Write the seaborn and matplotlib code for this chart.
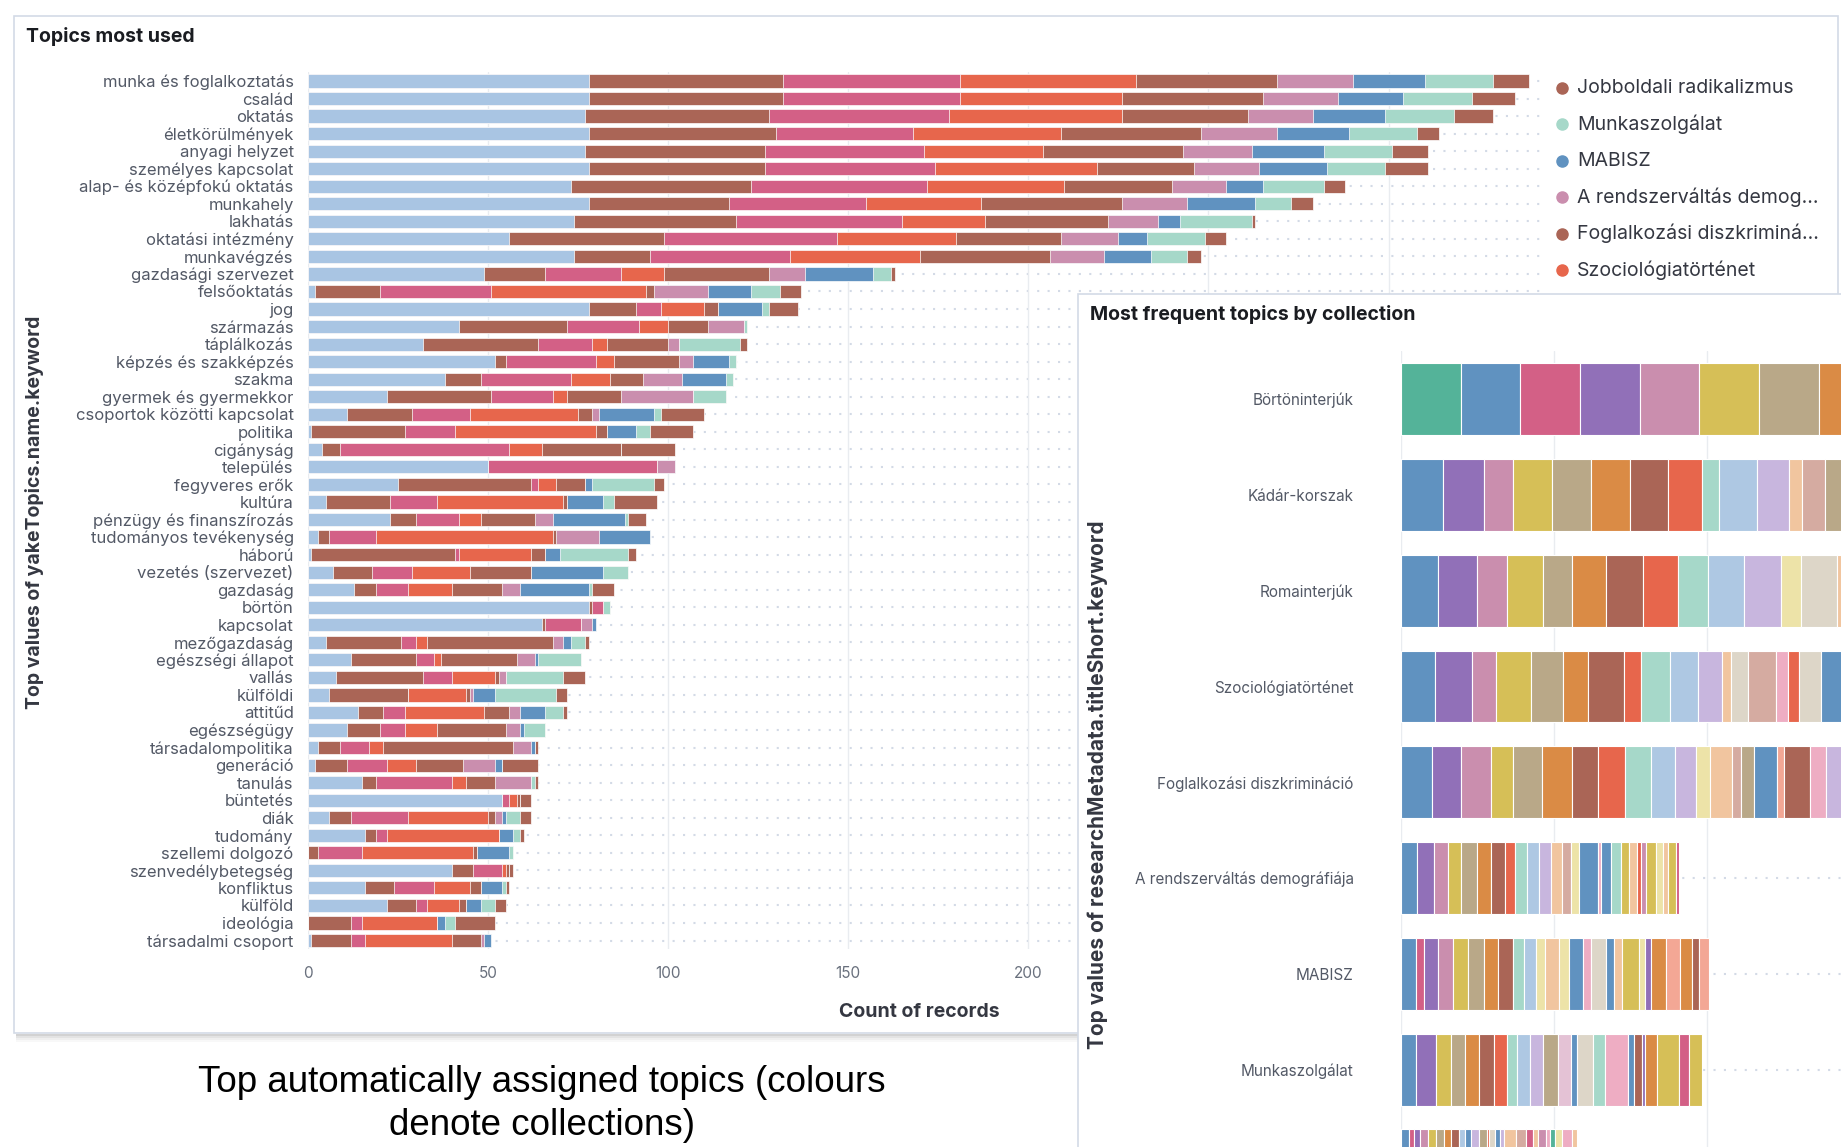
import numpy as np
import pandas as pd
import matplotlib
matplotlib.use("Agg")
import matplotlib.pyplot as plt
import seaborn as sns
from matplotlib import font_manager as fm
from matplotlib.lines import Line2D
from matplotlib.patches import Rectangle

# ---- left panel: topics and count of records per collection ----
topics = ['munka és foglalkoztatás', 'család', 'oktatás', 'életkörülmények', 'anyagi helyzet',
          'személyes kapcsolat', 'alap- és középfokú oktatás', 'munkahely', 'lakhatás',
          'oktatási intézmény', 'munkavégzés', 'gazdasági szervezet', 'felsőoktatás', 'jog',
          'származás', 'táplálkozás', 'képzés és szakképzés', 'szakma', 'gyermek és gyermekkor',
          'csoportok közötti kapcsolat', 'politika', 'cigányság', 'település', 'fegyveres erők',
          'kultúra', 'pénzügy és finanszírozás', 'tudományos tevékenység', 'háború',
          'vezetés (szervezet)', 'gazdaság', 'börtön', 'kapcsolat', 'mezőgazdaság',
          'egészségi állapot', 'vallás', 'külföldi', 'attitűd', 'egészségügy',
          'társadalompolitika', 'generáció', 'tanulás', 'büntetés', 'diák', 'tudomány',
          'szellemi dolgozó', 'szenvedélybetegség', 'konfliktus', 'külföld', 'ideológia',
          'társadalmi csoport']

# stack order left -> right
bortoninterjuk = [78, 78, 77, 78, 77, 78, 73, 78, 74, 56, 74, 49, 2, 78, 42, 32, 52, 38, 22, 11,
                  1, 4, 50, 25, 5, 23, 3, 1, 7, 13, 78, 65, 5, 12, 8, 6, 14, 11, 3, 2,
                  15, 54, 6, 16, 0, 40, 16, 22, 0, 1]
kadar_korszak = [54, 54, 51, 52, 50, 49, 50, 39, 45, 43, 21, 17, 18, 13, 30, 32, 3, 10, 29, 18,
                 26, 5, 0, 37, 18, 7, 3, 40, 11, 6, 1, 1, 21, 18, 24, 22, 7, 9, 6, 9,
                 4, 0, 6, 3, 3, 6, 8, 8, 12, 11]
romainterjuk = [49, 49, 50, 38, 44, 47, 49, 38, 46, 48, 39, 21, 31, 7, 20, 15, 25, 25, 17, 16,
                14, 47, 47, 2, 13, 12, 13, 1, 11, 9, 3, 10, 4, 5, 8, 0, 6, 7, 8, 11,
                21, 2, 16, 3, 12, 8, 11, 3, 3, 4]
szociologiatortenet = [49, 45, 48, 41, 33, 45, 38, 32, 23, 33, 36, 12, 43, 12, 8, 4, 5, 11, 4, 30,
                       39, 9, 0, 5, 35, 6, 49, 20, 16, 12, 0, 0, 3, 2, 12, 16, 22, 9, 4, 8,
                       4, 2, 22, 31, 31, 1, 10, 9, 21, 24]
foglalkozasi = [39, 39, 35, 39, 39, 27, 30, 39, 34, 29, 36, 29, 2, 4, 11, 17, 18, 9, 15, 4,
                3, 22, 0, 8, 1, 15, 1, 4, 17, 14, 0, 0, 35, 21, 1, 1, 7, 19, 36, 13,
                8, 1, 2, 0, 1, 1, 3, 2, 0, 8]
rendszervaltas = [21, 21, 18, 21, 19, 18, 15, 18, 14, 16, 15, 10, 15, 0, 10, 3, 4, 11, 20, 2,
                  0, 0, 5, 0, 0, 5, 12, 0, 0, 5, 0, 3, 3, 5, 2, 1, 3, 4, 5, 9,
                  10, 0, 2, 0, 0, 0, 0, 0, 0, 1]
mabisz = [20, 18, 20, 20, 20, 19, 10, 19, 6, 8, 13, 19, 12, 12, 0, 0, 10, 12, 0, 15,
          8, 0, 0, 2, 10, 20, 14, 4, 20, 19, 0, 1, 2, 1, 0, 6, 7, 1, 1, 2,
          0, 0, 1, 4, 9, 0, 6, 4, 2, 2]
munkaszolgalat = [19, 19, 19, 19, 19, 16, 17, 10, 20, 16, 10, 5, 8, 2, 1, 17, 2, 2, 9, 2,
                  4, 0, 0, 17, 3, 1, 0, 19, 7, 1, 2, 0, 4, 12, 16, 17, 5, 6, 0, 0,
                  1, 0, 4, 2, 1, 0, 1, 4, 3, 0]
jobboldali = [10, 12, 11, 6, 10, 12, 6, 6, 1, 6, 4, 1, 6, 8, 0, 2, 0, 0, 0, 12,
              12, 15, 0, 3, 12, 5, 0, 2, 0, 6, 0, 0, 1, 0, 6, 3, 1, 0, 1, 10,
              1, 3, 3, 1, 0, 1, 1, 3, 11, 0]

x_ticks = [0, 50, 100, 150, 200, 250, 300]

# legend, top to bottom, text as cut in the picture
legend_labels = ['Jobboldali radikalizmus', 'Munkaszolgálat', 'MABISZ',
                 'A rendszerváltás demog...', 'Foglalkozási diszkriminá...',
                 'Szociológiatörténet', 'Romainterjúk', 'Kádár-korszak', 'Börtöninterjúk']

# ---- right panel: topic (colour index) and count of each stacked segment ----
# last row is cut by the bottom edge, its label is not visible
collections = ['Börtöninterjúk', 'Kádár-korszak', 'Romainterjúk', 'Szociológiatörténet',
               'Foglalkozási diszkrimináció', 'A rendszerváltás demográfiája', 'MABISZ',
               'Munkaszolgálat', 'Jobboldali radikalizmus']

bort_topic = [0, 1, 2, 3, 4, 5, 6, 7, 8, 9]
bort_count = [78, 78, 78, 78, 78, 78, 78, 78, 78, 78]
kadar_topic = [1, 3, 4, 5, 6, 7, 8, 9, 10, 11, 13, 17, 18, 6, 15, 16]
kadar_count = [55, 53, 39, 50, 51, 51, 50, 45, 22, 49, 42, 17, 30, 40, 30, 30]
roma_topic = [1, 3, 4, 5, 6, 7, 8, 9, 10, 11, 13, 15, 16, 17, 18]
roma_count = [49, 50, 39, 48, 37, 45, 48, 46, 39, 48, 48, 26, 47, 30, 30]
szoc_topic = [1, 3, 4, 5, 6, 7, 8, 9, 10, 11, 13, 17, 16, 18, 12, 9, 16, 1, 19]
szoc_count = [45, 48, 31, 46, 42, 32, 48, 22, 37, 37, 32, 11, 22, 37, 16, 14, 29, 30, 20]
fogl_topic = [1, 3, 4, 5, 6, 7, 8, 9, 10, 11, 13, 15, 17, 18, 6, 1, 19, 8, 12, 13]
fogl_count = [40, 39, 39, 29, 37, 40, 34, 35, 34, 31, 28, 18, 29, 11, 18, 29, 10, 34, 21, 30]
rend_topic = [1, 3, 4, 5, 6, 7, 8, 9, 10, 11, 13, 17, 18, 15, 1, 12, 1, 10, 5, 17, 9, 4, 5, 15,
              17, 5, 2]
rend_count = [21, 22, 18, 17, 21, 19, 18, 13, 16, 16, 15, 14, 12, 11, 24, 5, 13, 12, 11, 10, 6, 6,
              13, 10, 6, 10, 5]
mab_topic = [1, 2, 3, 4, 5, 6, 7, 8, 10, 11, 15, 17, 15, 1, 12, 16, 1, 17, 5, 15, 3, 7, 19, 7, 8, 19]
mab_count = [19, 11, 19, 19, 19, 21, 19, 20, 14, 16, 11, 18, 13, 19, 11, 19, 10, 11, 22, 8, 8, 19,
             19, 16, 8, 14]
munk_topic = [1, 3, 5, 6, 7, 8, 9, 10, 11, 13, 6, 14, 1, 16, 10, 12, 1, 8, 3, 7, 5, 2, 5]
munk_count = [19, 27, 19, 19, 18, 19, 18, 13, 16, 18, 19, 17, 8, 21, 16, 30, 8, 10, 4, 15, 29, 13, 17]
jobb_topic = [1, 2, 3, 4, 5, 6, 7, 8, 11, 1, 13, 6, 9, 16, 1, 13, 17, 18, 2, 17, 4, 12, 0, 15, 12, 17]
jobb_count = [11, 6, 8, 10, 11, 10, 10, 10, 8, 8, 10, 10, 3, 8, 6, 5, 16, 13, 10, 6, 10, 6, 6, 10,
              13, 6]

# ---- styling ----
series_colors = ['#a9c5e3', '#aa6556', '#d36086', '#e7664c', '#aa6556',
                 '#ca8eae', '#6092c0', '#a6d8c9', '#aa6556']
legend_colors = series_colors[::-1]
topic_palette = ['#54b399', '#6092c0', '#d36086', '#9170b8', '#ca8eae', '#d6bf57', '#b9a888',
                 '#da8b45', '#aa6556', '#e7664c', '#a6d8c9', '#aec8e3', '#eeadc3', '#c8b6de',
                 '#e4c2d5', '#ede3a8', '#ddd6c8', '#f1c59f', '#d5aba1', '#f3a795']

sns.set_theme(style='white')
names = {f.name for f in fm.fontManager.ttflist}
ui_font = 'Inter' if 'Inter' in names else 'DejaVu Sans'
cap_font = 'Liberation Sans' if 'Liberation Sans' in names else 'DejaVu Sans'
plt.rcParams['font.family'] = [ui_font, 'DejaVu Sans']

W, H = 1841, 1147
fig = plt.figure(figsize=(W / 100, H / 100), dpi=100)


def px_axes(x0, y0, x1, y1):
    return fig.add_axes([x0 / W, 1 - y1 / H, (x1 - x0) / W, (y1 - y0) / H])


def fx(x):
    return x / W


def fy(y):
    return 1 - y / H


# left panel frame + bottom shadow
fig.add_artist(Rectangle((fx(14), fy(1033)), (1838 - 14) / W, (1033 - 16) / H,
                         transform=fig.transFigure, facecolor='white',
                         edgecolor='#d3dae6', lw=1.2, zorder=-2))
for i, a in enumerate([0.35, 0.22, 0.12, 0.05]):
    fig.add_artist(Rectangle((fx(16), fy(1036 + 2 * i)), (1078 - 16) / W, 2 / H,
                             transform=fig.transFigure, facecolor='#808080',
                             edgecolor='none', alpha=a, zorder=-1))

ax = px_axes(307.6, 72.2, 1540, 949.3)
ax.set_facecolor('none')
stack = [bortoninterjuk, kadar_korszak, romainterjuk, szociologiatortenet, foglalkozasi,
         rendszervaltas, mabisz, munkaszolgalat, jobboldali]
cum = np.cumsum(np.array(stack), axis=0)
n = len(topics)
ax.hlines(np.arange(n), 0, 342, colors='#d3dae6', linestyles=(0, (1, 4)), lw=1.5, zorder=0.5)
# stacked bars: longest cumulative first, shorter ones drawn on top
for k in range(len(stack) - 1, -1, -1):
    df = pd.DataFrame({'topic': topics, 'count': cum[k]})
    sns.barplot(data=df, x='count', y='topic', order=topics, orient='h',
                color=series_colors[k], saturation=1, width=0.75, errorbar=None,
                edgecolor='white', linewidth=0.5, ax=ax, zorder=2)
ax.set_xlim(0, 342)
ax.set_ylim(n - 0.5, -0.5)
ax.set_xticks(x_ticks)
ax.grid(axis='x', color='#e9ecf0', lw=1)
ax.grid(axis='y', visible=False)
ax.set_axisbelow(True)
ax.set_xlabel('')
ax.set_ylabel('')
for s in ax.spines.values():
    s.set_visible(False)
ax.tick_params(axis='y', length=0, pad=10, labelsize=12, labelcolor='#535966')
ax.tick_params(axis='x', length=0, pad=12, labelsize=11, labelcolor='#69707d')

fig.text(fx(26), fy(36.4), 'Topics most used', fontsize=14, weight='bold',
         color='#1a1c21', va='center')
fig.text(fx(35), fy(512), 'Top values of yakeTopics.name.keyword', fontsize=14,
         weight='bold', color='#343741', rotation=90, ha='center', va='center')
fig.text(fx(919), fy(1012), 'Count of records', fontsize=14, weight='bold',
         color='#343741', ha='center', va='center')

# legend
for i, (lab, col) in enumerate(zip(legend_labels, legend_colors)):
    y = 88 + i * 36.4
    fig.add_artist(Line2D([fx(1561.5)], [fy(y)], marker='o', ls='', color=col,
                          markersize=8, transform=fig.transFigure, zorder=3))
    fig.text(fx(1577), fy(y), lab, fontsize=14, color='#343741', va='center', zorder=3)

# right panel (drawn over the left one)
fig.add_artist(Rectangle((fx(1078), fy(1170)), (1880 - 1078) / W, (1170 - 293.5) / H,
                         transform=fig.transFigure, facecolor='white',
                         edgecolor='#d3dae6', lw=1.2, zorder=5))
ax2 = px_axes(1401, 351.3, 2013, 1213.3)
ax2.set_zorder(6)
ax2.set_facecolor('none')
inset_topic = [bort_topic, kadar_topic, roma_topic, szoc_topic, fogl_topic, rend_topic,
               mab_topic, munk_topic, jobb_topic]
inset_count = [bort_count, kadar_count, roma_count, szoc_count, fogl_count, rend_count,
               mab_count, munk_count, jobb_count]
ax2.hlines(np.arange(len(collections)), 0, 800, colors='#d3dae6', linestyles=(0, (1, 4)),
           lw=1.5, zorder=0.5)
for r, (tops, cnts) in enumerate(zip(inset_topic, inset_count)):
    lefts = np.concatenate([[0], np.cumsum(cnts)[:-1]])
    ax2.barh(r, cnts, left=lefts, height=0.75, color=[topic_palette[t] for t in tops],
             edgecolor='white', linewidth=0.8, zorder=2)
ax2.set_xlim(0, 800)
ax2.set_ylim(len(collections) - 0.5, -0.5)
ax2.set_yticks(range(len(collections) - 1))
ax2.set_yticklabels(collections[:-1])
ax2.set_xticks([0, 200, 400, 600])
ax2.grid(axis='x', color='#e9ecf0', lw=1)
ax2.set_axisbelow(True)
for s in ax2.spines.values():
    s.set_visible(False)
ax2.tick_params(axis='y', length=0, pad=34, labelsize=11, labelcolor='#535966')
ax2.tick_params(axis='x', length=0, labelbottom=False)

fig.text(fx(1089.6), fy(314.7), 'Most frequent topics by collection', fontsize=14,
         weight='bold', color='#1a1c21', va='center', zorder=7)
fig.text(fx(1098), fy(785), 'Top values of researchMetadata.titleShort.keyword', fontsize=15,
         weight='bold', color='#343741', rotation=90, ha='center', va='center', zorder=7)

fig.text(fx(542), fy(1104), 'Top automatically assigned topics (colours\ndenote collections)',
         fontsize=26.5, family=[cap_font, 'DejaVu Sans'], color='black', ha='center',
         va='center', linespacing=1.28)

fig.savefig('out.png', dpi=100)
